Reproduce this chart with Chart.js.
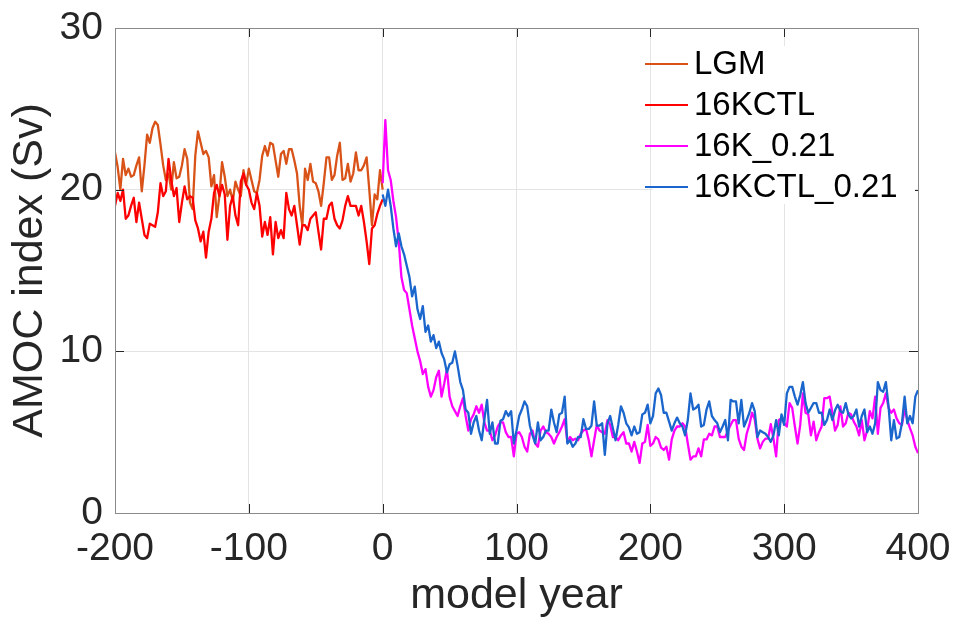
<!DOCTYPE html>
<html>
<head>
<meta charset="utf-8">
<title>AMOC index</title>
<script src="https://cdn.jsdelivr.net/npm/chart.js@4.4.1/dist/chart.umd.min.js"></script>
<style>
    html, body { margin: 0; padding: 0; background: #fff; }
    #wrap { width: 954px; height: 618px; }
</style>
</head>
<body>
<div id="wrap"><canvas id="amocChart" width="954" height="618"></canvas></div>
<script>
// yearly output, sampled every 2 model years
var yearStep = 2;
var controlStart = -200;   // LGM and 16KCTL
var runStart = 0;          // the 0.21 runs branch off at year 0

var lgm = [
    22.3, 21.4, 20.0, 21.9, 20.9, 21.3, 20.8, 20.9, 21.5, 22.0,
    19.9, 21.5, 23.4, 22.9, 23.8, 24.2, 24.0, 22.8, 21.5, 20.6,
    21.0, 20.0, 21.7, 20.7, 20.8, 21.5, 22.5, 21.9, 19.2, 18.8,
    22.1, 23.6, 22.9, 22.2, 22.4, 22.0, 20.2, 20.9, 18.3, 19.6,
    21.7, 20.8, 19.6, 20.0, 19.3, 20.5, 20.0, 19.6, 21.2, 20.3,
    21.3,
    20.6, 19.9, 19.8, 20.6, 22.1, 22.7, 22.1, 22.9, 22.8, 21.8,
    20.8, 22.2, 22.4, 21.6, 22.5, 22.5, 21.8, 21.0, 19.0, 17.8,
    21.3, 20.6, 21.6, 20.5, 20.4, 19.9, 19.0, 20.4, 22.0, 22.0,
    20.6, 20.9, 22.1, 22.9, 20.6, 20.7, 21.6, 20.5, 21.0, 22.3,
    21.2, 21.2, 21.5, 22.0, 20.0, 17.8, 19.7, 19.4, 21.2, 20.0
];
var ctl16k = [
    19.0, 19.8, 19.3, 20.0, 18.2, 18.4, 19.0, 19.5, 18.0, 19.2,
    18.2, 17.2, 17.0, 17.9, 17.8, 17.7, 18.6, 20.4, 19.6, 19.9,
    21.9, 20.6, 19.6, 20.1, 18.0, 19.2, 20.2, 19.4, 19.6, 19.5,
    18.1, 17.6, 16.8, 17.4, 15.8, 17.4, 18.2, 19.8, 20.3, 19.6,
    20.3, 19.7, 16.9, 19.0, 19.6, 18.4, 17.8, 20.5, 21.0, 20.3,
    20.0,
    19.2, 18.8, 19.8, 19.0, 17.1, 18.0, 17.2, 18.3, 16.0, 18.0,
    17.0, 17.5, 17.0, 19.8, 18.8, 18.4, 19.0, 17.8, 16.6, 17.8,
    17.8, 17.5, 18.2, 18.4, 18.6, 17.4, 16.3, 18.2, 18.2, 19.0,
    19.2, 18.2, 17.8, 17.6, 18.1, 19.0, 19.6, 19.0, 19.0, 19.0,
    18.4, 19.0, 18.0, 16.8, 15.4, 17.6, 17.8, 18.5, 19.0, 19.4
];
var k16_021 = [
    20.4, 24.3, 21.2, 20.6, 19.3, 18.3, 16.8, 14.6, 13.8, 13.6,
    12.6, 11.6, 10.8, 10.0, 9.4, 8.6, 8.9, 7.8, 7.2, 7.6,
    8.4, 8.8,
    7.2, 8.0, 8.9, 7.2, 6.6, 6.3, 6.0, 6.6, 7.1, 6.0,
    5.1, 5.8, 6.1, 6.6, 6.2, 6.7, 5.6, 5.1, 5.1, 4.5,
    4.8, 5.35, 5.6, 5.6, 5.0, 4.7, 4.7, 3.5, 4.9,
    5.0, 4.7, 4.1, 3.8, 4.9, 5.1, 4.3, 4.1, 5.1, 5.35,
    5.0, 4.9, 4.7, 4.3, 4.7, 5.0, 5.35, 5.8, 4.4, 4.7,
    4.5, 4.6, 4.5, 4.9, 5.1, 5.2, 4.5, 3.5, 4.5, 5.45, 5.1,
    5.0, 4.9, 5.75, 5.45, 4.7, 4.7, 4.5, 4.8, 5.0, 4.3,
    4.3, 3.8, 4.4, 3.8, 3.1, 4.3, 4.4, 5.45, 4.15, 4.3,
    4.7, 4.55, 4.05, 3.9, 4.1, 3.3, 4.55, 5.1, 5.35, 5.35,
    5.55, 5.35, 4.3, 3.3, 3.5, 3.5, 4.0, 3.5, 4.55, 4.55,
    4.9, 4.8, 5.35, 5.35, 4.7, 4.7, 4.7, 5.1, 5.45, 5.75,
    5.75, 4.6, 4.1, 3.9, 4.9, 5.45, 6.2, 5.8, 4.6,
    4.0, 4.4, 4.6, 4.6, 5.5, 4.6, 3.5, 5.75, 5.85, 5.55,
    5.35, 6.8, 6.5, 5.35, 4.3, 5.45, 7.4, 6.2, 6.1, 4.8,
    5.65, 4.5, 5.0, 5.35, 7.1, 7.1, 7.2, 6.2, 5.1, 5.45,
    6.6, 5.35, 5.55, 6.2, 6.1, 5.65, 5.35, 4.8, 5.75, 4.5,
    5.1, 6.3, 5.85, 7.2, 4.9, 6.5, 6.8, 7.4, 6.5, 6.2,
    6.4, 5.85, 5.55, 5.45, 6.4, 5.75, 5.25, 4.8, 4.1, 3.7
];
var ctl16k_021 = [
    19.7, 19.0, 20.0, 19.0, 17.6, 16.5, 17.3, 16.5, 16.0, 15.3,
    14.6, 13.4, 14.0, 12.6, 12.0, 12.8, 11.2, 11.6, 10.6, 11.0,
    10.2, 10.6,
    9.9, 9.5, 8.7, 9.2, 9.3, 10.0, 9.1, 8.1, 7.6, 6.4,
    6.2, 4.9, 5.6, 6.0, 5.1, 4.5, 5.8, 7.0, 4.9, 5.6,
    4.3, 4.3, 5.7, 5.8, 6.3, 6.0, 6.3, 4.3, 5.1,
    6.0, 6.4, 6.9, 6.6, 5.4, 4.8, 4.3, 5.6, 4.5, 4.7,
    5.1, 5.1, 6.4, 5.6, 5.0, 6.1, 6.2, 7.2, 4.3, 4.5,
    4.1, 4.3, 4.7, 4.7, 5.8, 5.2, 5.2, 5.4, 6.9, 5.4, 5.4,
    5.55, 3.6, 5.55, 6.0, 5.25, 4.5, 5.45, 6.6, 6.2, 5.55,
    5.3, 4.8, 5.35, 4.9, 5.0, 6.1, 6.2, 6.7, 5.55, 6.0,
    7.4, 7.7, 7.3, 6.2, 6.2, 5.65, 5.1, 5.55, 5.9, 5.55,
    5.35, 4.8, 5.75, 7.4, 6.4, 6.5, 6.7, 5.35, 5.45, 6.4,
    6.9, 6.0, 5.75, 5.55, 5.0, 5.35, 5.75, 4.5, 7.0, 6.9,
    6.9, 5.55, 7.0, 5.35, 5.75, 6.2, 6.8, 6.3, 4.7,
    5.1, 5.0, 4.9, 4.7, 4.4, 4.8, 5.75, 4.8, 6.1, 5.45,
    7.4, 7.8, 7.8, 7.2, 6.7, 7.3, 8.1, 6.8, 6.2, 6.5,
    6.8, 6.8, 6.2, 6.2, 5.45, 5.75, 6.4, 5.75, 6.35, 6.7,
    6.3, 6.2, 6.8, 6.1, 5.85, 6.0, 6.4, 5.35, 6.0, 6.4,
    5.0, 5.35, 4.9, 5.55, 8.1, 7.6, 7.5, 8.1, 6.6, 4.5,
    5.75, 4.6, 4.7, 5.55, 7.2, 5.55, 6.0, 5.55, 7.2, 7.6
];

var seriesNames = ['LGM', '16KCTL', '16K_0.21', '16KCTL_0.21'];
var seriesColors = ['#D95319', '#FF0000', '#FF00FF', '#1A66CC'];
var xTicks = [-200, -100, 0, 100, 200, 300, 400];
var yTicks = [0, 10, 20, 30];

var textColor = '#262626';
var fontFamily = '"Liberation Sans", Arial, Helvetica, sans-serif';

function toPoints(values, start) {
    return values.map(function (v, i) {
        return { x: start + i * yearStep, y: v };
    });
}

function makeSet(i, values, start) {
    return {
        label: seriesNames[i],
        data: toPoints(values, start),
        borderColor: seriesColors[i],
        backgroundColor: seriesColors[i],
        borderWidth: 2.3,
        pointRadius: 0,
        tension: 0,
        fill: false,
        borderJoinStyle: 'round',
        order: 4 - i   // later series are drawn on top
    };
}

// box round the axes with inward tick marks
var axesBox = {
    id: 'axesBox',
    afterDatasetsDraw: function (chart) {
        var ctx = chart.ctx;
        var a = chart.chartArea;
        var xs = chart.scales.x, ys = chart.scales.y;
        var tl = 9;
        ctx.save();
        ctx.lineWidth = 1;
        ctx.strokeStyle = textColor;
        ctx.beginPath();
        xTicks.forEach(function (t) {
            var px = Math.round(xs.getPixelForValue(t)) + 0.5;
            ctx.moveTo(px, a.bottom);
            ctx.lineTo(px, a.bottom - tl);
            ctx.moveTo(px, a.top);
            ctx.lineTo(px, a.top + tl);
        });
        yTicks.forEach(function (t) {
            var py = Math.round(ys.getPixelForValue(t)) + 0.5;
            ctx.moveTo(a.left, py);
            ctx.lineTo(a.left + tl, py);
            ctx.moveTo(a.right, py);
            ctx.lineTo(a.right - tl, py);
        });
        ctx.stroke();
        ctx.strokeStyle = '#8a8a8a';
        ctx.strokeRect(a.left + 0.5, a.top + 0.5, a.right - a.left, a.bottom - a.top);
        ctx.restore();
    }
};

// legend in the upper right corner of the axes
var cornerLegend = {
    id: 'cornerLegend',
    afterDraw: function (chart) {
        var ctx = chart.ctx;
        var a = chart.chartArea;
        var lineX0 = a.right - 273, lineX1 = a.right - 230, textX = a.right - 224;
        var rowY = a.top + 36, rowGap = 41;
        ctx.save();
        ctx.fillStyle = '#fff';
        ctx.fillRect(a.right - 265, a.top + 18, 262, 158);
        ctx.font = '33px ' + fontFamily;
        ctx.textBaseline = 'middle';
        ctx.textAlign = 'left';
        chart.data.datasets.forEach(function (ds, i) {
            var y = rowY + i * rowGap;
            ctx.strokeStyle = ds.borderColor;
            ctx.lineWidth = 2;
            ctx.beginPath();
            ctx.moveTo(lineX0, y);
            ctx.lineTo(lineX1, y);
            ctx.stroke();
            ctx.fillStyle = '#000';
            ctx.fillText(ds.label, textX, y + 1);
        });
        ctx.restore();
    }
};

Chart.defaults.font.family = fontFamily;
Chart.defaults.color = textColor;

var config = {
    type: 'line',
    data: {
        datasets: [
            makeSet(0, lgm, controlStart),
            makeSet(1, ctl16k, controlStart),
            makeSet(2, k16_021, runStart),
            makeSet(3, ctl16k_021, runStart)
        ]
    },
    options: {
        responsive: false,
        animation: false,
        devicePixelRatio: 1,
        layout: { padding: { left: 0, right: 36, top: 28, bottom: 0 } },
        plugins: {
            legend: { display: false },
            tooltip: { enabled: false }
        },
        scales: {
            x: {
                type: 'linear',
                min: -200,
                max: 400,
                afterBuildTicks: function (scale) {
                    scale.ticks = xTicks.map(function (v) { return { value: v }; });
                },
                afterFit: function (scale) {
                    scale.height = 105;
                    // end labels may hang over the edges, the layout padding covers them
                    scale.paddingLeft = 0;
                    scale.paddingRight = 0;
                },
                grid: { color: '#e4e4e4', drawTicks: false },
                border: { display: false },
                ticks: {
                    font: { size: 39 },
                    color: textColor,
                    padding: 13,
                    maxRotation: 0,
                    autoSkip: false
                },
                title: {
                    display: true,
                    text: 'model year',
                    font: { size: 43, lineHeight: 1 },
                    color: textColor,
                    padding: { top: 0, bottom: 0 }
                }
            },
            y: {
                type: 'linear',
                min: 0,
                max: 30,
                afterBuildTicks: function (scale) {
                    scale.ticks = yTicks.map(function (v) { return { value: v }; });
                },
                afterFit: function (scale) {
                    scale.width = 115;
                    scale.paddingTop = 0;
                    scale.paddingBottom = 0;
                },
                grid: { color: '#e4e4e4', drawTicks: false },
                border: { display: false },
                ticks: {
                    font: { size: 39 },
                    color: textColor,
                    padding: 12
                },
                title: {
                    display: true,
                    text: 'AMOC index (Sv)',
                    font: { size: 43, lineHeight: 1 },
                    color: textColor,
                    padding: { top: 9, bottom: 0 }
                }
            }
        }
    },
    plugins: [axesBox, cornerLegend]
};

var amocChart = new Chart(document.getElementById('amocChart'), config);
</script>
</body>
</html>
